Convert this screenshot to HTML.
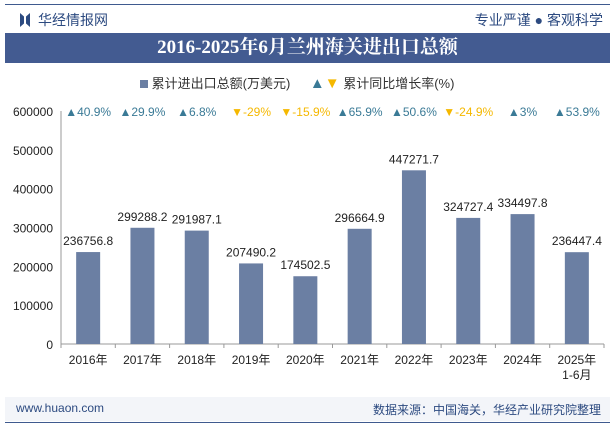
<!DOCTYPE html>
<html><head><meta charset="utf-8"><style>
body{margin:0;width:615px;height:427px;background:#fff;font-family:"Liberation Sans","Noto Sans CJK SC",sans-serif;position:relative;overflow:hidden}
.abs{position:absolute}
</style></head><body>
<div class="abs" style="left:5px;top:4px;width:605px;height:1px;background:#3f5a8f"></div>
<div class="abs" style="left:20px;top:13px;width:10px;height:14px;background:#2c4a80;clip-path:polygon(0 0,40% 25%,40% 75%,0 100%,0 0,100% 0,100% 100%,60% 75%,60% 25%,100% 0)"></div>
<div class="abs" style="left:38px;top:10px;font-size:14px;color:#2c4a80">华经情报网</div>
<div class="abs" style="right:12px;top:10px;font-size:14px;color:#2c4a80">专业严谨 ● 客观科学</div>
<div class="abs" style="left:5px;top:33px;width:605px;height:30px;background:#435b91;color:#fff;font-family:'Liberation Serif','Noto Serif CJK SC',serif;font-weight:bold;font-size:19px;text-align:center;line-height:30px">2016-2025年6月兰州海关进出口总额</div>
<div class="abs" style="left:140px;top:73px;font-size:13px;color:#333;white-space:nowrap">
<span style="display:inline-block;width:8px;height:8px;background:#6b7fa3"></span> 累计进出口总额(万美元)
<span style="margin-left:16px;color:#3a7a96;font-size:15px">▲</span><span style="color:#f5b800;font-size:15px">▼</span> 累计同比增长率(%)</div>
<svg class="abs" style="left:0;top:0" width="615" height="427" id="svg"></svg>
<div class="abs" style="left:5px;top:397px;width:605px;height:24px;background:#f3f5f9"></div>
<div class="abs" style="left:5px;top:422px;width:605px;height:1px;background:#3f5a8f"></div>
<div class="abs" style="left:16px;top:401px;font-size:12px;color:#2c4a80">www.huaon.com</div>
<div class="abs" style="right:14px;top:401px;font-size:12px;color:#2c4a80">数据来源：中国海关，华经产业研究院整理</div>
<script>
const categories=["2016年","2017年","2018年","2019年","2020年","2021年","2022年","2023年","2024年","2025年"];
const values=[236756.8,299288.2,291987.1,207490.2,174502.5,296664.9,447271.7,324727.4,334497.8,236447.4];
const growth=[40.9,29.9,6.8,-29,-15.9,65.9,50.6,-24.9,3,53.9];
const yTicks=[0,100000,200000,300000,400000,500000,600000];
const svg=document.getElementById('svg');const NS='http://www.w3.org/2000/svg';
const x0=61,x1=604,y0=344,yTop=111,ymax=600000;
const bw=(x1-x0)/categories.length;
const Y=v=>y0-(v/ymax)*(y0-yTop);
const X=i=>x0+bw*(i+0.5);
function mk(t,a,txt){const e=document.createElementNS(NS,t);for(const k in a)e.setAttribute(k,a[k]);if(txt!==undefined)e.textContent=txt;svg.appendChild(e);return e;}
yTicks.forEach(v=>{const t=mk('text',{x:53,y:Y(v)+5,'text-anchor':'end','font-size':12,fill:'#222'},v);

});
const ax=mk('line',{x1:x0,y1:y0,x2:x1,y2:y0,stroke:'#999'});


const ay=mk('line',{x1:x0,y1:yTop,x2:x0,y2:y0,stroke:'#999'});


for(let i=0;i<=categories.length;i++){const l=mk('line',{x1:x0+bw*i,y1:y0,x2:x0+bw*i,y2:y0+4,stroke:'#999'});

}
categories.forEach((c,i)=>{
const b=mk('rect',{x:X(i)-12,y:Y(values[i]),width:24,height:y0-Y(values[i]),fill:'#6b7fa3'});


const v=mk('text',{x:X(i),y:Y(values[i])-7,'text-anchor':'middle','font-size':12,fill:'#222'},values[i]);


const t=mk('text',{x:X(i),y:y0+20,'text-anchor':'middle','font-size':12,fill:'#222'},c);


const g=growth[i],up=g>=0;
const gt=mk('text',{x:X(i),y:116,'text-anchor':'middle','font-size':12,fill:up?'#3a7a96':'#f5b800'},(up?'▲':'▼')+g+'%');


});
const s=mk('text',{x:X(9),y:y0+35,'text-anchor':'middle','font-size':12,fill:'#222'},'1-6月');


</script>
</body></html>
